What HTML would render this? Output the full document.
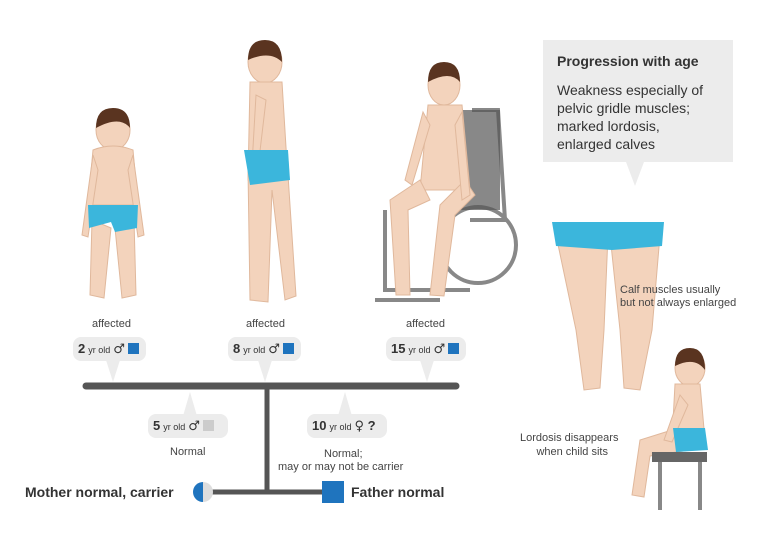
<!DOCTYPE html>
<html><head><style>
body{margin:0;width:768px;height:542px;background:#fff;position:relative;overflow:hidden;font-family:"Liberation Sans",sans-serif;color:#333}
.t{position:absolute;font-size:11px;color:#444;white-space:nowrap}
.b{position:absolute;background:#ececec;border-radius:8px;height:24px;font-size:13px;font-weight:bold;color:#333;line-height:24px;padding:0 5px;box-sizing:border-box;white-space:nowrap;overflow:hidden}
.b small{font-size:9px;font-weight:normal;margin:0 3px}
.b i{font-style:normal;font-size:13px;font-family:"DejaVu Sans",sans-serif;font-weight:bold}
.sq{display:inline-block;width:11px;height:11px;background:#1f74be;vertical-align:-1px;margin-left:3px}
</style></head><body>
<svg width="768" height="542" style="position:absolute;left:0;top:0">
<g fill="#ececec">
<polygon points="106,360 120,360 113,382"/>
<polygon points="258,360 272,360 265,382"/>
<polygon points="420,360 434,360 427,382"/>
<polygon points="183,416 197,416 190,392"/>
<polygon points="338,416 352,416 345,392"/>
<rect x="543" y="40" width="190" height="122"/>
<polygon points="626,162 644,162 635,186"/>
</g>
<line x1="86" y1="386" x2="456" y2="386" stroke="#555" stroke-width="7" stroke-linecap="round"/>
<line x1="267" y1="386" x2="267" y2="492" stroke="#555" stroke-width="5"/>
<line x1="210" y1="492" x2="324" y2="492" stroke="#555" stroke-width="5"/>
<path d="M203,482 A10,10 0 0 0 203,502 Z" fill="#1f74be"/>
<path d="M203,482 A10,10 0 0 1 203,502 Z" fill="#ddd"/>
<rect x="322" y="481" width="22" height="22" fill="#1f74be"/>
<g stroke="#888" stroke-width="4" fill="none">
<path d="M472,110 L498,110 L505,220 L470,220"/>
<circle cx="478" cy="245" r="38"/>
<path d="M385,210 L385,290 L470,290"/>
<path d="M375,300 L440,300"/>
</g>
<rect x="460" y="110" width="40" height="100" fill="#555" opacity="0.7"/>
<g fill="#f3d3bc" stroke="#e0b89c" stroke-width="1">
<ellipse cx="113" cy="130" rx="17" ry="20"/>
<path d="M93,150 Q113,142 133,150 L138,205 L88,205 Z"/>
<path d="M93,155 L82,235 L88,237 L98,170Z"/><path d="M133,155 L144,235 L138,237 L128,170Z"/>
<path d="M92,220 L90,295 L104,298 L111,228Z"/><path d="M134,220 L136,295 L122,298 L115,228Z"/>
<ellipse cx="265" cy="62" rx="17" ry="21"/>
<path d="M250,82 L282,82 L288,180 L248,180Z"/>
<path d="M248,170 L250,300 L268,302 L272,190 L285,300 L296,296 L288,175Z"/>
<path d="M256,95 L252,165 L258,168 L266,100Z"/>
<ellipse cx="444" cy="85" rx="16" ry="20"/>
<path d="M428,105 L462,105 L470,190 L420,190Z"/>
<path d="M420,180 L390,200 L396,295 L410,295 L408,210 L430,200Z"/>
<path d="M465,180 L440,205 L430,295 L444,296 L455,215 L475,195Z"/>
<path d="M423,112 L405,180 L412,185 L430,125Z"/><path d="M462,112 L470,195 L462,200 L455,125Z"/>
<path d="M556,235 L608,235 L604,330 L600,388 L584,390 L576,330 Z"/>
<path d="M610,235 L660,235 L652,330 L640,390 L624,388 L620,330 Z"/>
<ellipse cx="690" cy="368" rx="15" ry="18"/>
<path d="M675,384 L700,384 L705,440 L672,440Z"/>
<path d="M672,430 L640,440 L632,495 L644,497 L650,456 L690,450Z"/>
<path d="M680,395 L664,440 L672,442 L688,405Z"/>
</g>
<g fill="#5a3420">
<path d="M96,128 Q96,108 113,108 Q130,108 130,128 Q120,115 96,128Z"/>
<path d="M248,60 Q248,40 265,40 Q282,40 282,62 Q270,50 248,60Z"/>
<path d="M428,82 Q428,62 444,62 Q460,62 460,82 Q450,70 428,82Z"/>
<path d="M675,366 Q675,348 690,348 Q705,348 705,370 Q695,356 675,366Z"/>
</g>
<g fill="#3bb6dc">
<path d="M88,205 L138,205 L137,228 L115,232 L111,222 L89,228Z"/>
<path d="M244,150 L288,150 L290,180 L250,185Z"/>
<path d="M552,222 L664,222 L662,246 L612,250 L556,246Z"/>
<path d="M673,428 L705,428 L708,450 L676,452Z"/>
</g>
<rect x="652" y="452" width="55" height="10" fill="#666"/>
<line x1="660" y1="462" x2="660" y2="510" stroke="#888" stroke-width="4"/>
<line x1="700" y1="462" x2="700" y2="510" stroke="#888" stroke-width="4"/>
</svg>
<div class="t" style="left:92px;top:318px">affected</div>
<div class="t" style="left:246px;top:318px">affected</div>
<div class="t" style="left:406px;top:318px">affected</div>
<div class="b" style="left:73px;top:337px;width:73px">2<small>yr old</small><i>♂</i><span class="sq"></span></div>
<div class="b" style="left:228px;top:337px;width:73px">8<small>yr old</small><i>♂</i><span class="sq"></span></div>
<div class="b" style="left:386px;top:337px;width:80px">15<small>yr old</small><i>♂</i><span class="sq"></span></div>
<div class="b" style="left:148px;top:414px;width:80px">5<small>yr old</small><i>♂</i><span class="sq" style="background:#ccc"></span></div>
<div class="b" style="left:307px;top:414px;width:80px">10<small>yr old</small><i>♀</i> ?</div>
<div class="t" style="left:170px;top:446px">Normal</div>
<div class="t" style="left:324px;top:448px">Normal;</div>
<div class="t" style="left:278px;top:461px">may or may not be carrier</div>
<div style="position:absolute;left:25px;top:484px;font-size:14px;font-weight:bold;color:#333">Mother normal, carrier</div>
<div style="position:absolute;left:351px;top:484px;font-size:14px;font-weight:bold;color:#333">Father normal</div>
<div style="position:absolute;left:557px;top:53px;font-size:14px;font-weight:bold;color:#333">Progression with age</div>
<div style="position:absolute;left:557px;top:81px;font-size:14px;line-height:18px;color:#333">Weakness especially of<br>pelvic gridle muscles;<br>marked lordosis,<br>enlarged calves</div>
<div class="t" style="left:620px;top:284px;line-height:13px">Calf muscles usually<br>but not always enlarged</div>
<div class="t" style="left:520px;top:431px;line-height:14px;text-align:right;width:88px">Lordosis disappears<br>when child sits</div>
</body></html>
